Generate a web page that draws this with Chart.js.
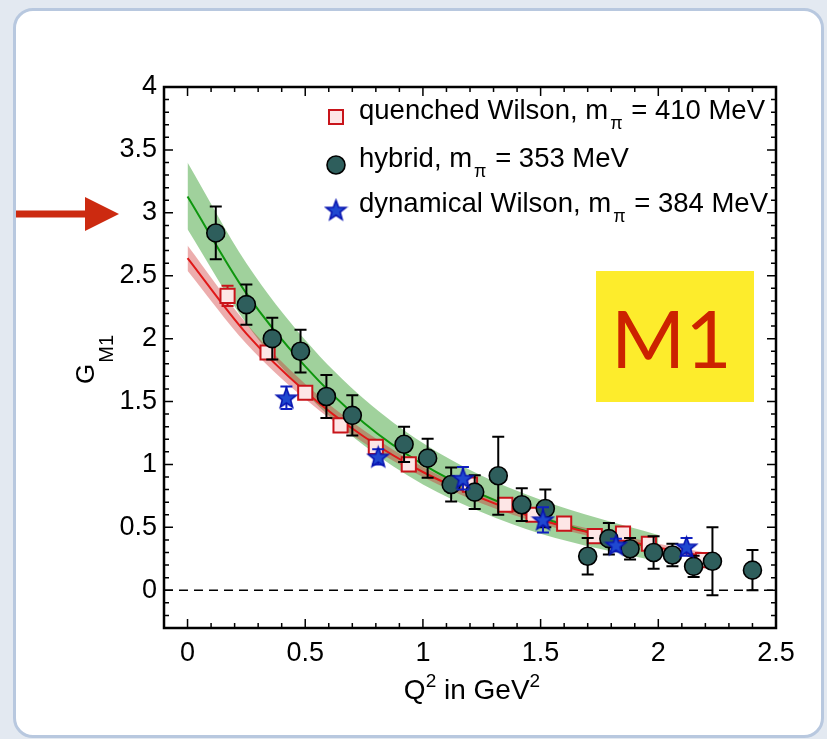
<!DOCTYPE html>
<html>
<head>
<meta charset="utf-8">
<script src="https://cdn.jsdelivr.net/npm/chart.js@4.4.1/dist/chart.umd.min.js"></script>
<style>
  html, body { margin: 0; padding: 0; }
  body { width: 827px; height: 739px; background: #e3e9f1; position: relative; overflow: hidden; }
  #panel {
    position: absolute; left: 13px; top: 8px; width: 805px; height: 724px;
    background: #fff; border: 3px solid #b8c8df; border-radius: 20px;
  }
  #gm1 { position: absolute; left: 0; top: 0; }
</style>
</head>
<body>
<div id="panel"></div>
<canvas id="gm1" width="827" height="739"></canvas>
<script>
// quenched Wilson, m_pi = 410 MeV
const quenchedQ2 = [0.17, 0.34, 0.50, 0.65, 0.80, 0.94, 1.20, 1.35, 1.47, 1.60, 1.73, 1.85, 1.96, 2.19];
const quenchedG = [2.34, 1.89, 1.57, 1.31, 1.14, 1.00, 0.84, 0.68, 0.60, 0.53, 0.43, 0.45, 0.37, 0.24];
const quenchedErr = [0.08, 0.05, 0.04, 0.04, 0.04, 0.04, 0.05, 0.04, 0.04, 0.03, 0.04, 0.04, 0.04, 0.04];

// hybrid, m_pi = 353 MeV
const hybridQ2 = [0.12, 0.25, 0.36, 0.48, 0.59, 0.70, 0.92, 1.02, 1.12, 1.22, 1.32, 1.42, 1.52, 1.70, 1.79, 1.88, 1.98, 2.06, 2.15, 2.23, 2.40];
const hybridG = [2.84, 2.27, 2.00, 1.90, 1.54, 1.39, 1.16, 1.05, 0.84, 0.78, 0.91, 0.68, 0.65, 0.27, 0.41, 0.33, 0.30, 0.28, 0.19, 0.23, 0.16];
const hybridErr = [0.21, 0.16, 0.165, 0.17, 0.17, 0.16, 0.14, 0.155, 0.135, 0.135, 0.31, 0.13, 0.15, 0.145, 0.125, 0.085, 0.13, 0.09, 0.085, 0.27, 0.16];

// dynamical Wilson, m_pi = 384 MeV
const dynamicalQ2 = [0.42, 0.81, 1.17, 1.51, 1.82, 2.12];
const dynamicalG = [1.53, 1.06, 0.89, 0.56, 0.36, 0.345];
const dynamicalErr = [0.09, 0.06, 0.09, 0.10, 0.05, 0.07];

// fit curves with their error bands
const hybridFitQ2 = [0, 0.25, 0.5, 0.75, 1.0, 1.25, 1.5, 1.75, 2.0];
const hybridFit = [3.13, 2.36, 1.78, 1.33, 1.00, 0.76, 0.58, 0.44, 0.33];
const hybridFitHi = [3.40, 2.60, 1.99, 1.52, 1.17, 0.91, 0.72, 0.57, 0.44];
const hybridFitLo = [2.87, 2.12, 1.57, 1.15, 0.84, 0.62, 0.45, 0.33, 0.23];

const quenchedFitQ2 = [0, 0.25, 0.5, 0.75, 1.0, 1.25, 1.5, 1.75, 2.0, 2.2];
const quenchedFit = [2.64, 2.04, 1.58, 1.22, 0.94, 0.73, 0.56, 0.44, 0.34, 0.27];
const quenchedFitHi = [2.74, 2.12, 1.64, 1.27, 0.98, 0.77, 0.59, 0.47, 0.37, 0.30];
const quenchedFitLo = [2.54, 1.96, 1.52, 1.17, 0.90, 0.69, 0.53, 0.41, 0.31, 0.24];

// axes
const xTicks = [0, 0.5, 1, 1.5, 2, 2.5];
const xTickLabels = ['0', '0.5', '1', '1.5', '2', '2.5'];
const yTicks = [0, 0.5, 1, 1.5, 2, 2.5, 3, 3.5, 4];
const yTickLabels = ['0', '0.5', '1', '1.5', '2', '2.5', '3', '3.5', '4'];

const FONT = '"Liberation Sans", Arial, sans-serif';

const pts = (xs, ys) => xs.map((v, i) => ({ x: v, y: ys[i] }));

// filled blue star used as point style
function makeStar(r) {
  const c = document.createElement('canvas');
  const s = Math.ceil(r * 2 + 4);
  c.width = s; c.height = s;
  const g = c.getContext('2d');
  g.beginPath();
  for (let k = 0; k < 10; k++) {
    const rr = k % 2 === 0 ? r : r * 0.42;
    const a = -Math.PI / 2 + k * Math.PI / 5;
    g.lineTo(s / 2 + rr * Math.cos(a), s / 2 + rr * Math.sin(a) + 0.8);
  }
  g.closePath();
  g.fillStyle = '#1f48d0';
  g.fill();
  g.lineWidth = 1.6;
  g.strokeStyle = '#0814b0';
  g.stroke();
  return c;
}
const star = makeStar(10.5);

// error bars under each marker set
const errorBars = {
  id: 'errorBars',
  beforeDatasetDraw(chart, args) {
    const ds = chart.data.datasets[args.index];
    if (!ds.errors) return;
    const { ctx, scales: { x, y } } = chart;
    ctx.save();
    ctx.strokeStyle = ds.errorColor;
    ctx.lineWidth = 2;
    ds.data.forEach((p, i) => {
      const px = x.getPixelForValue(p.x);
      const top = y.getPixelForValue(p.y + ds.errors[i]);
      const bot = y.getPixelForValue(p.y - ds.errors[i]);
      ctx.beginPath();
      ctx.moveTo(px, top); ctx.lineTo(px, bot);
      ctx.moveTo(px - 6, top); ctx.lineTo(px + 6, top);
      ctx.moveTo(px - 6, bot); ctx.lineTo(px + 6, bot);
      ctx.stroke();
    });
    ctx.restore();
  }
};

// dashed zero line
const zeroLine = {
  id: 'zeroLine',
  beforeDatasetsDraw(chart) {
    const { ctx, chartArea: a, scales: { y } } = chart;
    const py = y.getPixelForValue(0);
    ctx.save();
    ctx.setLineDash([9, 6]);
    ctx.lineWidth = 1.6;
    ctx.strokeStyle = '#000';
    ctx.beginPath();
    ctx.moveTo(a.left, py); ctx.lineTo(a.right, py);
    ctx.stroke();
    ctx.restore();
  }
};

// box frame with inward ticks on all sides
const frame = {
  id: 'frame',
  afterDraw(chart) {
    const { ctx, chartArea: a, scales: { x, y } } = chart;
    ctx.save();
    ctx.strokeStyle = '#000';
    ctx.lineWidth = 1.5;
    ctx.beginPath();
    for (let i = -1; i <= 25; i++) {
      const v = i / 10;
      const px = x.getPixelForValue(v);
      const len = i % 5 === 0 ? 9 : 5;
      ctx.moveTo(px, a.bottom); ctx.lineTo(px, a.bottom - len);
      ctx.moveTo(px, a.top); ctx.lineTo(px, a.top + len);
    }
    for (let i = -3; i <= 40; i++) {
      const v = i / 10;
      const py = y.getPixelForValue(v);
      const len = i % 5 === 0 ? 9 : 5;
      ctx.moveTo(a.left, py); ctx.lineTo(a.left + len, py);
      ctx.moveTo(a.right, py); ctx.lineTo(a.right - len, py);
    }
    ctx.stroke();
    ctx.lineWidth = 2.5;
    ctx.strokeRect(a.left, a.top, a.right - a.left, a.bottom - a.top);
    ctx.restore();
  }
};

// text with a sub- or superscript part
function drawParts(ctx, parts, x, yb) {
  let cx = x;
  parts.forEach(p => {
    ctx.font = p.size + 'px ' + FONT;
    ctx.fillText(p.t, cx + (p.pre || 0), yb + (p.dy || 0));
    cx += ctx.measureText(p.t).width + (p.pre || 0) + (p.gap || 0);
  });
  return cx;
}
function partsWidth(ctx, parts) {
  let w = 0;
  parts.forEach(p => {
    ctx.font = p.size + 'px ' + FONT;
    w += ctx.measureText(p.t).width + (p.pre || 0) + (p.gap || 0);
  });
  return w;
}

const legendRows = [
  { kind: 'square', y: 119, parts: [{ t: 'quenched Wilson, m', size: 27.5 }, { t: 'π', size: 18, dy: 10, pre: 2, gap: 1 }, { t: ' = 410 MeV', size: 27.5 }] },
  { kind: 'circle', y: 167, parts: [{ t: 'hybrid, m', size: 27.5 }, { t: 'π', size: 18, dy: 10, pre: 2, gap: 1 }, { t: ' = 353 MeV', size: 27.5 }] },
  { kind: 'star', y: 212, parts: [{ t: 'dynamical Wilson, m', size: 27.5 }, { t: 'π', size: 18, dy: 10, pre: 2, gap: 1 }, { t: ' = 384 MeV', size: 27.5 }] }
];

// legend, axis titles, arrow and M1 label
const annotations = {
  id: 'annotations',
  afterDraw(chart) {
    const { ctx } = chart;
    ctx.save();
    ctx.fillStyle = '#000';
    ctx.textBaseline = 'alphabetic';
    ctx.textAlign = 'left';

    legendRows.forEach(r => {
      const mx = 336, my = r.y - 2;
      if (r.kind === 'square') {
        ctx.fillStyle = '#fde6e6';
        ctx.fillRect(mx - 7, my - 7, 14, 14);
        ctx.strokeStyle = '#c8141a';
        ctx.lineWidth = 2;
        ctx.strokeRect(mx - 7, my - 7, 14, 14);
      } else if (r.kind === 'circle') {
        ctx.beginPath();
        ctx.arc(mx, my, 9, 0, Math.PI * 2);
        ctx.fillStyle = '#2e5e5c';
        ctx.fill();
        ctx.strokeStyle = '#000';
        ctx.lineWidth = 1.6;
        ctx.stroke();
      } else {
        ctx.drawImage(star, mx - star.width / 2, my - star.height / 2);
      }
      ctx.fillStyle = '#000';
      drawParts(ctx, r.parts, 359, r.y);
    });

    // x title
    const xt = [{ t: 'Q', size: 28 }, { t: '2', size: 19, dy: -12 }, { t: ' in GeV', size: 28 }, { t: '2', size: 19, dy: -12 }];
    const w = partsWidth(ctx, xt);
    drawParts(ctx, xt, 472 - w / 2, 699);

    // y title, rotated
    ctx.save();
    ctx.translate(94, 384);
    ctx.rotate(-Math.PI / 2);
    drawParts(ctx, [{ t: 'G', size: 26, gap: 1 }, { t: 'M1', size: 20, dy: 19 }], 0, 0);
    ctx.restore();

    // red arrow pointing at the axis
    ctx.fillStyle = '#cc2a10';
    ctx.beginPath();
    ctx.moveTo(16, 210.5); ctx.lineTo(85, 210.5); ctx.lineTo(85, 197);
    ctx.lineTo(119, 214); ctx.lineTo(85, 231); ctx.lineTo(85, 217.5);
    ctx.lineTo(16, 217.5);
    ctx.closePath();
    ctx.fill();

    // M1 tag
    ctx.fillStyle = '#fdec2c';
    ctx.fillRect(596, 271, 158, 131);
    ctx.fillStyle = '#cc2200';
    ctx.font = '80px Lato, "Open Sans", sans-serif';
    ctx.fillText('M1', 611, 368);
    ctx.restore();
  }
};

const ctx = document.getElementById('gm1');

new Chart(ctx, {
  type: 'scatter',
  data: {
    datasets: [
      {
        label: 'dynamical Wilson',
        data: pts(dynamicalQ2, dynamicalG),
        errors: dynamicalErr,
        errorColor: '#1020c0',
        pointStyle: star,
        order: 1
      },
      {
        label: 'hybrid',
        data: pts(hybridQ2, hybridG),
        errors: hybridErr,
        errorColor: '#000',
        pointStyle: 'circle',
        pointRadius: 9,
        backgroundColor: '#2e5e5c',
        borderColor: '#000',
        borderWidth: 1.6,
        order: 2
      },
      {
        label: 'quenched Wilson',
        data: pts(quenchedQ2, quenchedG),
        errors: quenchedErr,
        errorColor: '#c8141a',
        pointStyle: 'rect',
        pointRadius: 10,
        backgroundColor: '#fde6e6',
        borderColor: '#c8141a',
        borderWidth: 2,
        order: 3
      },
      {
        type: 'line',
        data: pts(quenchedFitQ2, quenchedFit),
        borderColor: '#e01818',
        borderWidth: 2,
        pointRadius: 0,
        cubicInterpolationMode: 'monotone',
        order: 4
      },
      {
        type: 'line',
        data: pts(hybridFitQ2, hybridFit),
        borderColor: '#0e960e',
        borderWidth: 2,
        pointRadius: 0,
        cubicInterpolationMode: 'monotone',
        order: 5
      },
      {
        type: 'line',
        data: pts(quenchedFitQ2, quenchedFitHi),
        borderWidth: 0,
        pointRadius: 0,
        backgroundColor: 'rgba(205, 40, 40, 0.38)',
        fill: '+1',
        cubicInterpolationMode: 'monotone',
        order: 6
      },
      {
        type: 'line',
        data: pts(quenchedFitQ2, quenchedFitLo),
        borderWidth: 0,
        pointRadius: 0,
        cubicInterpolationMode: 'monotone',
        order: 7
      },
      {
        type: 'line',
        data: pts(hybridFitQ2, hybridFitHi),
        borderWidth: 0,
        pointRadius: 0,
        backgroundColor: 'rgba(18, 140, 8, 0.4)',
        fill: '+1',
        cubicInterpolationMode: 'monotone',
        order: 8
      },
      {
        type: 'line',
        data: pts(hybridFitQ2, hybridFitLo),
        borderWidth: 0,
        pointRadius: 0,
        cubicInterpolationMode: 'monotone',
        order: 9
      }
    ]
  },
  options: {
    responsive: false,
    animation: false,
    devicePixelRatio: 1,
    layout: { padding: { left: 0, top: 87, right: 51, bottom: 0 } },
    plugins: {
      legend: { display: false },
      tooltip: { enabled: false }
    },
    scales: {
      x: {
        type: 'linear',
        min: -0.1,
        max: 2.5,
        grid: { display: false, drawTicks: false },
        border: { display: false },
        afterBuildTicks: (scale) => { scale.ticks = xTicks.map(v => ({ value: v })); },
        afterFit: (scale) => { scale.height = 111; },
        ticks: {
          padding: 9,
          color: '#000',
          font: { family: FONT, size: 27 },
          maxRotation: 0,
          callback: (v) => xTickLabels[xTicks.indexOf(v)]
        }
      },
      y: {
        type: 'linear',
        min: -0.3,
        max: 4,
        grid: { display: false, drawTicks: false },
        border: { display: false },
        afterBuildTicks: (scale) => { scale.ticks = yTicks.map(v => ({ value: v })); },
        afterFit: (scale) => { scale.width = 164; },
        ticks: {
          padding: 7,
          color: '#000',
          font: { family: FONT, size: 27 },
          callback: (v) => yTickLabels[yTicks.indexOf(v)]
        }
      }
    }
  },
  plugins: [errorBars, zeroLine, frame, annotations]
});
</script>
</body>
</html>
